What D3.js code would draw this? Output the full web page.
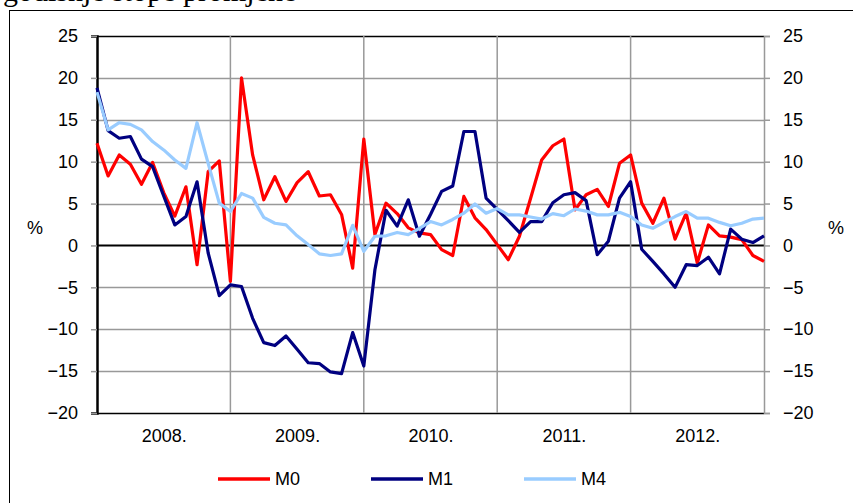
<!DOCTYPE html>
<html>
<head>
<meta charset="utf-8">
<script src="https://cdn.jsdelivr.net/npm/d3@7"></script>
<style>
  body { margin: 0; background: #fff; }
  svg { display: block; }
  text { font-family: "Liberation Sans", Arial, sans-serif; }
</style>
</head>
<body>
<div id="chart"></div>
<script>
// monthly index 0..60 = Dec 2007 .. Dec 2012
const yearLabels = ["2008.", "2009.", "2010.", "2011.", "2012."];
const yTicks = [-20, -15, -10, -5, 0, 5, 10, 15, 20, 25];
const seriesNames = ["M0", "M1", "M4"];
const seriesColors = ["#ff0000", "#000080", "#99ccff"];

const m0 = [12.2, 8.3, 10.8, 9.7, 7.3, 9.9, 6.3, 3.5, 7.0, -2.3, 8.8, 10.1, -4.3,
  20.0, 10.8, 5.45, 8.2, 5.25, 7.5, 8.8, 5.9, 6.05, 3.7, -2.7, 12.7,
  1.3, 5.05, 3.8, 2.1, 1.5, 1.3, -0.5, -1.2, 5.85, 3.3, 1.9, 0.1,
  -1.7, 1.1, 5.6, 10.2, 11.9, 12.7, 4.25, 6.05, 6.7, 4.65, 9.8, 10.8,
  5.05, 2.65, 5.65, 0.75, 3.85, -2.1, 2.45, 1.15, 1.0, 0.7, -1.2, -1.9];

const m1 = [18.8, 13.7, 12.8, 13.0, 10.3, 9.4, 5.9, 2.45, 3.45, 7.6, -0.9, -6.0, -4.7,
  -4.9, -8.7, -11.6, -11.95, -10.8, -12.4, -14.0, -14.1, -15.1, -15.3, -10.4, -14.4,
  -2.9, 4.2, 2.3, 5.45, 1.1, 3.7, 6.45, 7.1, 13.6, 13.6, 5.65, 4.3,
  2.95, 1.55, 2.85, 2.85, 5.1, 6.05, 6.3, 5.35, -1.1, 0.5, 5.65, 7.6,
  -0.45, -1.9, -3.4, -5.0, -2.3, -2.4, -1.4, -3.4, 1.95, 0.75, 0.35, 1.15];

const m4 = [18.3, 13.8, 14.65, 14.45, 13.8, 12.4, 11.4, 10.2, 9.2, 14.65, 9.8, 5.05, 4.05,
  6.2, 5.65, 3.35, 2.65, 2.45, 1.15, 0.1, -1.0, -1.2, -1.0, 2.4, -0.7,
  1.1, 1.15, 1.55, 1.3, 2.05, 2.85, 2.45, 3.1, 3.85, 4.95, 3.85, 4.4,
  3.65, 3.65, 3.4, 3.15, 3.8, 3.55, 4.35, 4.1, 3.65, 3.65, 3.95, 3.45,
  2.45, 2.05, 2.75, 3.45, 4.05, 3.25, 3.25, 2.75, 2.35, 2.65, 3.15, 3.25];

const allSeries = [m0, m1, m4];

const W = 853, H = 503;
const plot = {left: 97, right: 764, top: 36, bottom: 413};

var svg = d3.select("#chart").append("svg")
    .attr("width", W)
    .attr("height", H);

// outer frame and clipped title
svg.append("rect")
    .attr("x", 9.5).attr("y", 10.5)
    .attr("width", 900).attr("height", 600)
    .attr("fill", "none").attr("stroke", "#000").attr("stroke-width", 1);

svg.append("text")
    .attr("x", 3).attr("y", 1)
    .style("font-family", "'Liberation Serif', 'Times New Roman', serif")
    .attr("font-size", "30px")
    .text("godišnje stope promjene");

var x = d3.scaleLinear().domain([0, m0.length - 1]).range([plot.left, plot.right]);
var y = d3.scaleLinear().domain([-20, 25]).range([plot.bottom, plot.top]);

// horizontal gridlines
svg.append("g").selectAll("line")
  .data(yTicks)
  .join("line")
    .attr("x1", plot.left).attr("x2", plot.right)
    .attr("y1", d => Math.round(y(d)) + 0.5).attr("y2", d => Math.round(y(d)) + 0.5)
    .attr("stroke", d => (d === 0 || d === 25 || d === -20) ? "#000" : "#999")
    .attr("stroke-width", d => d === 0 ? 2 : 1.5);

// vertical gridlines at year boundaries
svg.append("g").selectAll("line")
  .data([12, 24, 36, 48])
  .join("line")
    .attr("x1", d => x(d)).attr("x2", d => x(d))
    .attr("y1", plot.top).attr("y2", plot.bottom)
    .attr("stroke", "#999").attr("stroke-width", 1.5);

// left axis
var leftAxis = svg.append("g")
    .attr("transform", "translate(" + plot.left + ",0)")
    .call(d3.axisLeft(y).tickValues(yTicks).tickSize(6).tickPadding(13));
leftAxis.select(".domain").attr("stroke", "#000").attr("stroke-width", 2.5);
leftAxis.selectAll(".tick line").attr("stroke", "#999").attr("stroke-width", 1.5);
leftAxis.selectAll("text").attr("font-size", "18px").attr("fill", "#000");

// right axis
var rightAxis = svg.append("g")
    .attr("transform", "translate(" + plot.right + ",0)")
    .call(d3.axisRight(y).tickValues(yTicks).tickSize(6).tickPadding(13));
rightAxis.select(".domain").attr("stroke", "#999").attr("stroke-width", 1.5);
rightAxis.selectAll(".tick line").attr("stroke", "#999").attr("stroke-width", 1.5);
rightAxis.selectAll("text").attr("font-size", "18px").attr("fill", "#000");

// year labels centred in each year
var xAxis = svg.append("g")
    .attr("transform", "translate(0," + plot.bottom + ")")
    .call(d3.axisBottom(x)
      .tickValues([6, 18, 30, 42, 54])
      .tickFormat((d, i) => yearLabels[i])
      .tickSize(0).tickPadding(16));
xAxis.select(".domain").remove();
xAxis.selectAll("text").attr("font-size", "18px").attr("fill", "#000");

// % labels
svg.append("text").attr("x", 35).attr("y", 234)
    .attr("text-anchor", "middle").attr("font-size", "18px").text("%");
svg.append("text").attr("x", 836).attr("y", 234)
    .attr("text-anchor", "middle").attr("font-size", "18px").text("%");

// series lines
var line = d3.line()
    .x((d, i) => x(i))
    .y(d => y(d));

svg.append("g").selectAll("path")
  .data(allSeries)
  .join("path")
    .attr("d", line)
    .attr("fill", "none")
    .attr("stroke", (d, i) => seriesColors[i])
    .attr("stroke-width", 3.2)
    .attr("stroke-linejoin", "round");

// legend
var legend = svg.append("g").selectAll("g")
  .data(seriesNames)
  .join("g")
    .attr("transform", (d, i) => "translate(" + (218 + i * 153) + ",479)");

legend.append("line")
    .attr("x1", 0).attr("x2", 52)
    .attr("stroke", (d, i) => seriesColors[i])
    .attr("stroke-width", 3.5);

legend.append("text")
    .attr("x", 57).attr("dy", "0.35em")
    .attr("font-size", "18px")
    .text(d => d);
</script>
</body>
</html>
